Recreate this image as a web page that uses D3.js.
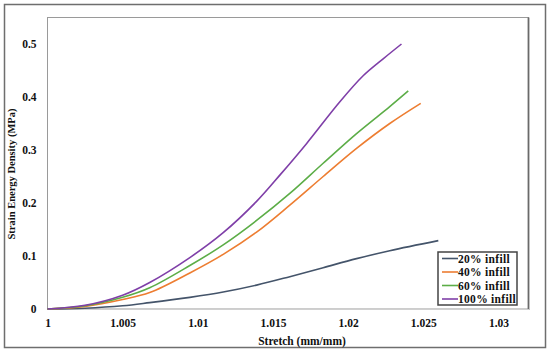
<!DOCTYPE html>
<html>
<head>
<meta charset="utf-8">
<script src="https://cdn.jsdelivr.net/npm/d3@7"></script>
<style>
  body { margin: 0; background: #fff; }
  text { font-family: "Liberation Serif", "Times New Roman", serif; font-weight: bold; fill: #111; }
</style>
</head>
<body>
<svg id="chart" width="550" height="353"></svg>
<script>
// series labels + colors
const seriesNames = ['20% infill', '40% infill', '60% infill', '100% infill'];
const seriesColors = ['#44546a', '#ed7d31', '#5cad47', '#7f3fa8'];

// stretch (mm/mm) and strain energy density (MPa)
const stretch20 = [1, 1.0025, 1.005, 1.0068, 1.00947, 1.01169, 1.01391, 1.01612, 1.01834, 1.02056, 1.02277, 1.0260];
const sed20     = [0, 0.0015, 0.006, 0.012, 0.022, 0.032, 0.045, 0.061, 0.078, 0.095, 0.110, 0.129];

const stretch40 = [1, 1.0025, 1.005, 1.0068, 1.00947, 1.01169, 1.01391, 1.01612, 1.01834, 1.02056, 1.02277, 1.02483];
const sed40     = [0, 0.005, 0.018, 0.031, 0.068, 0.103, 0.145, 0.196, 0.250, 0.303, 0.350, 0.388];

const stretch60 = [1, 1.0025, 1.005, 1.0068, 1.00947, 1.01169, 1.01391, 1.01612, 1.01834, 1.02056, 1.02277, 1.0240];
const sed60     = [0, 0.006, 0.022, 0.040, 0.082, 0.121, 0.167, 0.218, 0.275, 0.331, 0.382, 0.4116];

const stretch100 = [1, 1.0025, 1.005, 1.0068, 1.00947, 1.01169, 1.01391, 1.0155, 1.01723, 1.01945, 1.021, 1.02233, 1.02355];
const sed100     = [0, 0.007, 0.026, 0.050, 0.097, 0.144, 0.203, 0.254, 0.312, 0.391, 0.440, 0.472, 0.500];

const xTicks = [1, 1.005, 1.01, 1.015, 1.02, 1.025, 1.03];
const yTicks = [0, 0.1, 0.2, 0.3, 0.4, 0.5];

const series = [
  { name: seriesNames[0], color: seriesColors[0], xs: stretch20, ys: sed20 },
  { name: seriesNames[1], color: seriesColors[1], xs: stretch40, ys: sed40 },
  { name: seriesNames[2], color: seriesColors[2], xs: stretch60, ys: sed60 },
  { name: seriesNames[3], color: seriesColors[3], xs: stretch100, ys: sed100 }
];

const svg = d3.select('#chart');

// plot area
const plotLeft = 47.5, plotRight = 528.5, plotTop = 17.5, plotBottom = 309;

const x = d3.scaleLinear().domain([1, 1.032]).range([plotLeft, plotRight]);
const y = d3.scaleLinear().domain([0, 0.55]).range([plotBottom, plotTop]);

// outer frame
svg.append('rect')
  .attr('x', 4.5).attr('y', 4.5).attr('width', 541).attr('height', 343)
  .attr('fill', 'none').attr('stroke', '#6e6e6e').attr('stroke-width', 1.5);

// plot frame
svg.append('rect')
  .attr('x', plotLeft).attr('y', plotTop).attr('width', plotRight - plotLeft).attr('height', plotBottom - plotTop)
  .attr('fill', 'none').attr('stroke', '#9a9a9a').attr('stroke-width', 1);
svg.append('line')
  .attr('x1', plotRight).attr('x2', plotRight).attr('y1', plotTop).attr('y2', plotBottom + 1)
  .attr('stroke', '#6a6a6a').attr('stroke-width', 1.8);

// axes (labels only, no ticks)
const xAxis = svg.append('g')
  .attr('transform', `translate(0,${plotBottom})`)
  .call(d3.axisBottom(x).tickValues(xTicks).tickSize(0).tickPadding(10).tickFormat(d => String(+d.toFixed(3))));
xAxis.select('.domain').attr('stroke', '#d0d0d0').attr('stroke-width', 1.2);
xAxis.selectAll('text').attr('font-size', 11.5).attr('dy', '0.71em');

const yAxis = svg.append('g')
  .attr('transform', `translate(${plotLeft},0)`)
  .call(d3.axisLeft(y).tickValues(yTicks).tickSize(0).tickPadding(11).tickFormat(d => String(+d.toFixed(1))));
yAxis.select('.domain').remove();
yAxis.selectAll('text').attr('font-size', 11.5);

// axis titles
svg.append('text')
  .attr('x', 302).attr('y', 345)
  .attr('text-anchor', 'middle').attr('font-size', 11.5)
  .text('Stretch (mm/mm)');

svg.append('text')
  .attr('transform', 'translate(15,174) rotate(-90)')
  .attr('text-anchor', 'middle').attr('font-size', 10.5)
  .text('Strain Energy Density (MPa)');

// curves
const line = d3.line()
  .x(d => x(d[0]))
  .y(d => y(d[1]))
  .curve(d3.curveCatmullRom.alpha(0.5));

svg.append('g')
  .selectAll('path')
  .data(series)
  .join('path')
  .attr('d', s => line(d3.zip(s.xs, s.ys)))
  .attr('fill', 'none')
  .attr('stroke', s => s.color)
  .attr('stroke-width', 1.6);

// legend
const legend = svg.append('g').attr('transform', 'translate(438,252)');
legend.append('rect')
  .attr('width', 79).attr('height', 53)
  .attr('fill', '#fff').attr('stroke', '#444').attr('stroke-width', 1.5);

const rows = legend.selectAll('g.row')
  .data(series)
  .join('g')
  .attr('class', 'row')
  .attr('transform', (_, i) => `translate(0,${6.5 + i * 13.5})`);
rows.append('line')
  .attr('x1', 4).attr('x2', 20)
  .attr('stroke', s => s.color).attr('stroke-width', 1.6);
rows.append('text')
  .attr('x', 20).attr('dy', '0.35em')
  .attr('font-size', 11.5)
  .attr('letter-spacing', 0.3)
  .text(s => s.name);
</script>
</body>
</html>
